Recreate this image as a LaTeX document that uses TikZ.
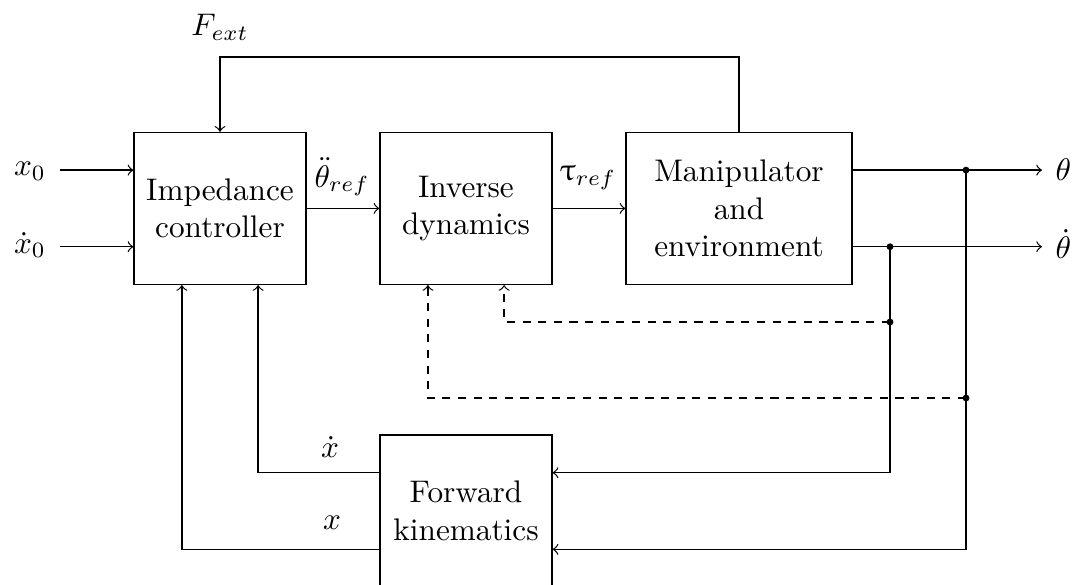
\documentclass[tikz,border=0pt]{standalone}
\usepackage{amsmath}
\usepackage{upgreek}
\usetikzlibrary{calc}
\begin{document}
\begin{tikzpicture}[x=0.32pt,y=-0.32pt,
  block/.style={draw, minimum width=55.04pt, minimum height=48.64pt, align=center, inner sep=2pt},
  lab/.style={inner sep=0pt},
  dot/.style={circle, fill, inner sep=0pt, minimum size=2.2pt},
  dsh/.style={dash pattern=on 2.6pt off 2.4pt},
  >=to]
\useasboundingbox (0,0) rectangle (1075,584);
% blocks
\node[block] (imp) at (220,208.4) {Impedance\\controller};
\node[block] (inv) at (466,208.4) {Inverse\\dynamics};
\node[block, minimum width=72.32pt] (man) at (739,208.4) {Manipulator\\and\\environment};
\node[block] (fk) at (466,511) {Forward\\kinematics};
% ports
\coordinate (impin1) at ($(imp.north west)!0.25!(imp.south west)$);
\coordinate (impin2) at ($(imp.north west)!0.75!(imp.south west)$);
\coordinate (manout1) at ($(man.north east)!0.25!(man.south east)$);
\coordinate (manout2) at ($(man.north east)!0.75!(man.south east)$);
\coordinate (fkin1) at ($(fk.north east)!0.25!(fk.south east)$);
\coordinate (fkin2) at ($(fk.north east)!0.75!(fk.south east)$);
\coordinate (fkout1) at ($(fk.north west)!0.25!(fk.south west)$);
\coordinate (fkout2) at ($(fk.north west)!0.75!(fk.south west)$);
\coordinate (impb1) at ($(imp.south west)!0.28!(imp.south east)$);
\coordinate (impb2) at ($(imp.south west)!0.72!(imp.south east)$);
\coordinate (invb1) at ($(inv.south west)!0.28!(inv.south east)$);
\coordinate (invb2) at ($(inv.south west)!0.72!(inv.south east)$);
% inputs
\coordinate (x0s) at (60,0);
\node[lab] (x0) at (30,171) {$x_0$};
\node[lab] (xd0) at (30,245) {$\dot{x}_0$};
\draw[->] (x0s |- impin1) -- (impin1);
\draw[->] (x0s |- impin2) -- (impin2);
% outputs
\coordinate (oute) at (1042,0);
\node[lab, anchor=west] (th) at ($(oute |- manout1)+(13,0)$) {$\theta$};
\node[lab, anchor=west] (thd) at ($(oute |- manout2)+(13,-3)$) {$\dot{\theta}$};
\node[dot] (d1) at (966,0 |- manout1) {};
\node[dot] (d2) at (890,0 |- manout2) {};
\node[dot] (d3) at (890,322) {};
\node[dot] (d4) at (966,398) {};
\draw[->] (manout1) -- (oute |- manout1);
\draw[->] (manout2) -- (oute |- manout2);
% forward chain
\draw[->] (imp.east) -- (inv.west);
\draw[->] (inv.east) -- (man.west);
\node[lab] (thddr) at (342,177) {$\ddot{\theta}_{ref}$};
\node[lab] (tau) at (588,178) {$\uptau_{ref}$};
% external force
\coordinate (ftop) at (0,57);
\draw[->] (man.north) -- (man.north |- ftop) -| (imp.north);
\node[lab] (fext) at (220,27) {$F_{ext}$};
% feedback to forward kinematics
\draw[->] (d2.center) |- (fkin1);
\draw[->] (d1.center) |- (fkin2);
% dashed feedback to inverse dynamics
\draw[dsh,->] (d3.center) -| (invb2);
\draw[dsh,->] (d4.center) -| (invb1);
% forward kinematics outputs
\draw[->] (fkout1) -| (impb2);
\draw[->] (fkout2) -| (impb1);
\node[lab] (xd) at (330,447) {$\dot{x}$};
\node[lab] (x) at (332,523) {$x$};
\end{tikzpicture}
\end{document}
